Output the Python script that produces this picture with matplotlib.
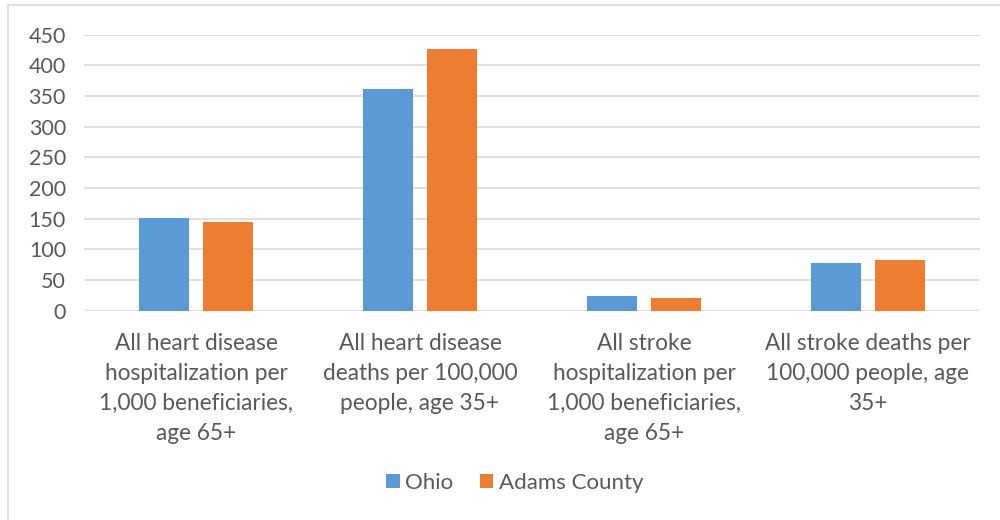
import matplotlib.pyplot as plt
from matplotlib.lines import Line2D
import numpy as np

plt.rcParams['font.family'] = ['Lato', 'DejaVu Sans']

categories = [
    "All heart disease\nhospitalization per\n1,000 beneficiaries,\nage 65+",
    "All heart disease\ndeaths per 100,000\npeople, age 35+",
    "All stroke\nhospitalization per\n1,000 beneficiaries,\nage 65+",
    "All stroke deaths per\n100,000 people, age\n35+",
]
ohio = [151, 362, 24.5, 78]
adams = [145, 427, 20.5, 82]
yticks = list(range(0, 451, 50))

blue = "#5b9bd5"
orange = "#ed7d31"
grey_text = "#595959"

fig = plt.figure(figsize=(10, 5.2), dpi=100)
ax = fig.add_axes([0.084, 0.4025, 0.896, 0.5305])

x = np.arange(len(categories))
w = 0.223
off = 0.143
ax.bar(x - off, ohio, w, color=blue, label="Ohio", zorder=3)
ax.bar(x + off, adams, w, color=orange, label="Adams County", zorder=3)

ax.set_xlim(-0.5, len(categories) - 0.5)
ax.set_ylim(0, 450)
ax.set_yticks(yticks)
ax.yaxis.grid(True, color="#d9d9d9", linewidth=1.2, zorder=0)
ax.set_axisbelow(True)
for s in ax.spines.values():
    s.set_visible(False)
ax.tick_params(axis="y", length=0, labelsize=15.5, labelcolor=grey_text, pad=13)
ax.set_xticks(x)
ax.set_xticklabels(categories, fontsize=16.3, color=grey_text, linespacing=1.53, va="top")
ax.tick_params(axis="x", length=0, pad=16)

leg = fig.legend(loc="center", bbox_to_anchor=(0.515, 0.071), ncol=2, frameon=False,
                 fontsize=16, handlelength=0.6, handleheight=0.6, handletextpad=0.25,
                 columnspacing=1.2)
for t in leg.get_texts():
    t.set_color(grey_text)

# chart area border (only top and left edges visible)
fig.add_artist(Line2D([0.008, 0.008, 1.0], [0.0, 0.99, 0.99], transform=fig.transFigure,
                      color="#d9d9d9", linewidth=1.2))

fig.savefig("out.png", dpi=100)
